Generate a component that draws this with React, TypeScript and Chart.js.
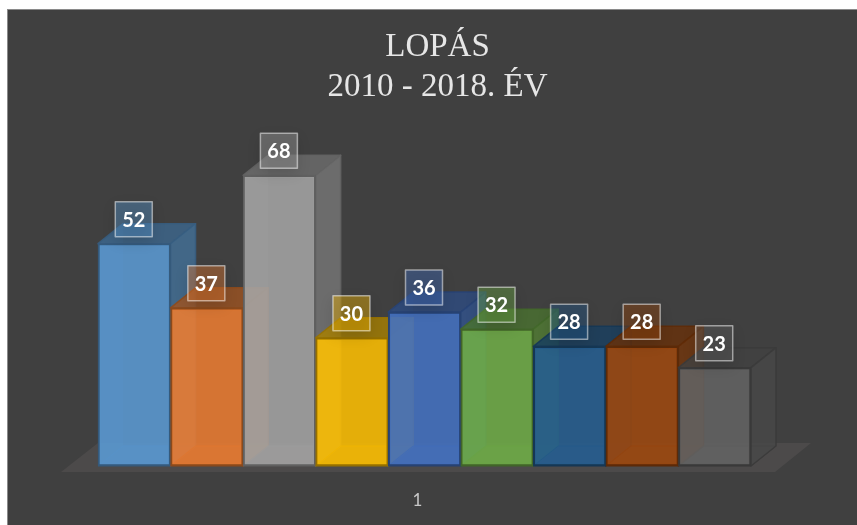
import React, { useEffect, useRef } from "react";
import { Chart, registerables } from "chart.js";

Chart.register(...registerables);

const categories = ["1"];
const titleLines = ["LOPÁS", "2010 - 2018. ÉV"];
const seriesNames = ["S1", "S2", "S3", "S4", "S5", "S6", "S7", "S8", "S9"];
const seriesValues = [52, 37, 68, 30, 36, 32, 28, 28, 23];
const seriesColors = [
  [91, 155, 213],
  [237, 125, 49],
  [165, 165, 165],
  [255, 192, 0],
  [68, 114, 196],
  [112, 173, 71],
  [37, 94, 145],
  [158, 72, 14],
  [99, 99, 99],
];

const DX = 25;
const DY = -20;
const rgba = (c: number[], a: number, k = 1) =>
  `rgba(${Math.round(c[0] * k)},${Math.round(c[1] * k)},${Math.round(c[2] * k)},${a})`;

function quad(ctx: CanvasRenderingContext2D, pts: number[][], fill: string, stroke?: string, lw = 1.5) {
  ctx.beginPath();
  pts.forEach((p, i) => (i ? ctx.lineTo(p[0], p[1]) : ctx.moveTo(p[0], p[1])));
  ctx.closePath();
  ctx.fillStyle = fill;
  ctx.fill();
  if (stroke) {
    ctx.strokeStyle = stroke;
    ctx.lineWidth = lw;
    ctx.lineJoin = "round";
    ctx.stroke();
  }
}

const panelPlugin = {
  id: "panel",
  afterLayout(chart: any) {
    // the reference's title sits a little right of the plot's centre
    if (chart.titleBlock) {
      chart.titleBlock.left += 13;
      chart.titleBlock.right += 13;
    }
  },
  beforeDraw(chart: any) {
    const ctx = chart.ctx;
    ctx.save();
    ctx.fillStyle = "#ffffff";
    ctx.fillRect(0, 0, chart.width, chart.height);
    ctx.fillStyle = "#8a8a8a";
    ctx.fillRect(7, 9, chart.width - 7, chart.height - 9);
    ctx.fillStyle = "#404040";
    ctx.fillRect(8, 10, chart.width - 8, chart.height - 10);
    ctx.restore();
  },
};

const bars3dPlugin = {
  id: "bars3d",
  beforeDatasetsDraw(chart: any) {
    const ctx: CanvasRenderingContext2D = chart.ctx;
    const metas = seriesValues.map((_, i) => chart.getDatasetMeta(i));
    const bars = metas.map((m: any) => m.data[0]);
    const first = bars[0];
    const last = bars[bars.length - 1];
    const base = first.base;
    const fl = first.x - first.width / 2;
    const fr = last.x + last.width / 2;

    ctx.save();
    // floor
    quad(
      ctx,
      [
        [fl + 0, base - 23],
        [fr + 60, base - 23],
        [fr + 24, base + 6],
        [fl - 37, base + 6],
      ],
      "#4c4a4a"
    );
    metas.forEach((meta: any, i: number) => {
      const b = meta.data[0];
      const c = seriesColors[i];
      const l = b.x - b.width / 2;
      const r = b.x + b.width / 2;
      const t = b.y;
      const bt = b.base;
      const edge = rgba(c, 0.9, 0.6);
      // inner back faces, seen through the front
      quad(ctx, [[l, t], [l + DX, t + DY], [l + DX, bt + DY], [l, bt]], rgba(c, 0.16, 0.9));
      quad(ctx, [[l, bt], [r, bt], [r + DX, bt + DY], [l + DX, bt + DY]], rgba(c, 0.2, 0.9), edge, 1);
      // top and right side
      quad(ctx, [[l, t], [r, t], [r + DX, t + DY], [l + DX, t + DY]], rgba(c, 0.8, 0.66), edge);
      quad(ctx, [[r, t], [r + DX, t + DY], [r + DX, bt + DY], [r, bt]], rgba(c, 0.8, 0.72), edge);
      // front, drawn by the bar element itself
      meta.controller.draw();
    });
    // data labels
    metas.forEach((meta: any, i: number) => {
      const b = meta.data[0];
      const w = 37;
      const h = 35;
      const x = b.x - w / 2 - 0.5;
      const y = b.y - 7 - h;
      ctx.save();
      ctx.shadowColor = "rgba(0,0,0,0.3)";
      ctx.shadowBlur = 14;
      ctx.shadowOffsetY = 5;
      ctx.fillStyle = rgba(seriesColors[i], 0.42, 0.95);
      ctx.fillRect(x, y, w, h);
      ctx.restore();
      ctx.strokeStyle = "rgba(255,255,255,0.5)";
      ctx.lineWidth = 1.5;
      ctx.strokeRect(x, y, w, h);
      ctx.fillStyle = "#ffffff";
      ctx.font = "bold 20px Lato";
      ctx.textAlign = "center";
      ctx.textBaseline = "middle";
      ctx.fillText(String(seriesValues[i]), x + w / 2, y + h / 2 + 1);
    });
    ctx.restore();
    return false;
  },
};

export default function App() {
  const ref = useRef<HTMLCanvasElement>(null);
  useEffect(() => {
    const chart = new Chart(ref.current!, {
      type: "bar",
      data: {
        labels: categories,
        datasets: seriesValues.map((v, i) => ({
          label: seriesNames[i],
          data: [v],
          backgroundColor: rgba(seriesColors[i], 0.86),
          borderColor: rgba(seriesColors[i], 1, 0.58),
          borderWidth: 2,
          borderSkipped: false,
          barPercentage: 1,
          categoryPercentage: 1,
        })),
      },
      options: {
        animation: false,
        responsive: false,
        layout: { padding: { left: 98, right: 106, top: 0, bottom: 0 } },
        plugins: {
          legend: { display: false },
          tooltip: { enabled: false },
          title: {
            display: true,
            text: titleLines,
            color: "#e6e6e6",
            font: { family: "'Liberation Serif'", size: 33, weight: "normal", lineHeight: 1.2 },
            padding: { top: 28, bottom: 16.8 },
          },
        },
        scales: {
          x: {
            grid: { display: false },
            border: { display: false },
            ticks: {
              color: "#c8c8c8",
              font: { family: "Lato", size: 17 },
              padding: 16,
              labelOffset: -7,
            },
            afterFit(scale: any) {
              scale.height = 59;
            },
          },
          y: { display: false, min: 0, max: 80 },
        },
      },
      plugins: [panelPlugin, bars3dPlugin],
    } as any);
    return () => chart.destroy();
  }, []);
  return (
    <canvas
      ref={ref}
      width={857}
      height={525}
      style={{ position: "fixed", left: 0, top: 0, width: 857, height: 525, display: "block" }}
    />
  );
}
